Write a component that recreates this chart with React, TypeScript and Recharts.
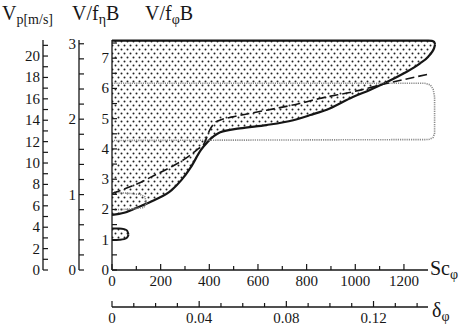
import { Area, ComposedChart, Line, XAxis, YAxis } from 'recharts';

// upper shaded region (lower boundary = solid curve, upper = top line)
const regionSc = [0, 50, 100, 175, 245, 285, 325, 365, 395, 420, 445, 525, 635, 745, 815, 895, 990, 1060, 1130, 1200, 1265, 1300, 1315, 1324, 1328];
const regionLow = [1.82, 1.89, 2.05, 2.31, 2.64, 2.97, 3.41, 3.96, 4.25, 4.43, 4.55, 4.68, 4.79, 4.95, 5.12, 5.34, 5.72, 5.95, 6.21, 6.5, 6.82, 7.05, 7.2, 7.33, 7.45];
const regionHigh = [7.58, 7.58, 7.58, 7.58, 7.58, 7.58, 7.58, 7.58, 7.58, 7.58, 7.58, 7.58, 7.58, 7.58, 7.58, 7.58, 7.58, 7.58, 7.58, 7.58, 7.58, 7.58, 7.57, 7.54, 7.45];

// small closed island near the axis
const blobSc = [0, 30, 50, 62, 68];
const blobLow = [0.99, 1.0, 1.02, 1.07, 1.17];
const blobHigh = [1.37, 1.37, 1.35, 1.3, 1.17];

// dashed curve
const dashSc = [0, 107, 175, 244, 312, 350, 380, 400, 420, 443, 496, 635, 771, 854, 991, 1128, 1220, 1305];
const dashV = [2.53, 2.86, 3.13, 3.41, 3.74, 3.98, 4.2, 4.6, 4.85, 4.95, 5.06, 5.28, 5.5, 5.67, 5.89, 6.16, 6.33, 6.48];

// grey dotted contours
const greySc = [0, 1285, 1308, 1320, 1326, 1326, 1320, 1302, 0];
const greyV = [6.17, 6.17, 6.12, 5.98, 5.72, 4.52, 4.38, 4.31, 4.28];
const greySmallSc = [8, 60, 115, 135, 142, 130, 70, 8];
const greySmallV = [2.57, 2.54, 2.5, 2.42, 2.2, 2.06, 2.01, 1.99];

// axes
const scTicks = [0, 100, 200, 300, 400, 500, 600, 700, 800, 900, 1000, 1100, 1200];
const scLabels = [0, 200, 400, 600, 800, 1000, 1200];
const deltaTicks = [0, 0.01, 0.02, 0.03, 0.04, 0.05, 0.06, 0.07, 0.08, 0.09, 0.1, 0.11, 0.12, 0.13, 0.14];
const deltaLabels = [0, 0.04, 0.08, 0.12];
const vpTicks = [0, 1, 2, 3, 4, 5, 6, 7, 8, 9, 10, 11, 12, 13, 14, 15, 16, 17, 18, 19, 20, 21];
const vpLabels = [0, 2, 4, 6, 8, 10, 12, 14, 16, 18, 20];
const etaTicks = [0, 0.2, 0.4, 0.6, 0.8, 1, 1.2, 1.4, 1.6, 1.8, 2, 2.2, 2.4, 2.6, 2.8, 3];
const etaLabels = [0, 1, 2, 3];
const phiTicks = [0, 0.5, 1, 1.5, 2, 2.5, 3, 3.5, 4, 4.5, 5, 5.5, 6, 6.5, 7, 7.5];
const phiLabels = [0, 1, 2, 3, 4, 5, 6, 7];

const regionData = regionSc.map((sc, i) => ({ sc, range: [regionLow[i], regionHigh[i]] }));
const blobData = blobSc.map((sc, i) => ({ sc, range: [blobLow[i], blobHigh[i]] }));
const dashData = dashSc.map((sc, i) => ({ sc, v: dashV[i] }));
const greyData = greySc.map((sc, i) => ({ sc, v: greyV[i] }));
const greySmallData = greySmallSc.map((sc, i) => ({ sc, v: greySmallV[i] }));
// empty series so the second x axis gets its scale
const deltaData = deltaTicks.map((d) => ({ d, v: null }));

const FONT = '"Liberation Serif", "DejaVu Serif", serif';
const INK = '#161616';

const isIn = (list: number[], v: number) => list.some((l) => Math.abs(l - v) < 1e-6);

function YTick(props: any) {
  const { x, y, payload, labels } = props;
  const v = payload.value;
  return (
    <g>
      <line x1={x} y1={y} x2={x + 5} y2={y} stroke={INK} strokeWidth={1.2} />
      {isIn(labels, v) && (
        <text x={x - 3} y={y + 5} textAnchor="end" fontFamily={FONT} fontSize={15} fill={INK}>
          {v}
        </text>
      )}
    </g>
  );
}

function XTick(props: any) {
  const { x, y, payload, labels, fmt } = props;
  const v = payload.value;
  const major = isIn(labels, v);
  return (
    <g>
      <line x1={x} y1={y} x2={x} y2={y - (major ? 6 : 4)} stroke={INK} strokeWidth={1.2} />
      {major && (
        <text x={x} y={y + 16} textAnchor="middle" fontFamily={FONT} fontSize={15} fill={INK}>
          {fmt ? fmt(v) : v}
        </text>
      )}
    </g>
  );
}

const sub = { fontSize: 14, position: 'relative' as const, top: 4 };
const head = { position: 'absolute' as const, top: 3, fontSize: 20, lineHeight: '20px', whiteSpace: 'nowrap' as const };

export default function App() {
  return (
    <div style={{ position: 'absolute', left: 0, top: 0, width: 462, height: 331, background: '#fff', fontFamily: FONT, color: INK }}>
      <ComposedChart width={462} height={331} margin={{ top: 40, right: 34, bottom: 0, left: 0 }}>
        <defs>
          <pattern id="dots" width={6} height={8} patternUnits="userSpaceOnUse">
            <circle cx={1.5} cy={1.5} r={1} fill="#222" />
            <circle cx={4.5} cy={5.5} r={1} fill="#222" />
          </pattern>
        </defs>
        <XAxis
          xAxisId="a_sc"
          dataKey="sc"
          type="number"
          domain={[0, 1340]}
          padding={{ left: 0, right: -10 }}
          ticks={scTicks}
          interval={0}
          height={37}
          tickSize={0}
          tickMargin={0}
          tickLine={false}
          stroke={INK}
          strokeWidth={1.3}
          tick={(p: any) => <XTick {...p} labels={scLabels} />}
        />
        <XAxis
          xAxisId="b_delta"
          dataKey="d"
          type="number"
          domain={[0, 0.145]}
          allowDataOverflow
          ticks={deltaTicks}
          interval={0}
          height={24}
          tickSize={0}
          tickMargin={0}
          tickLine={false}
          stroke={INK}
          strokeWidth={1.3}
          tick={(p: any) => <XTick {...p} labels={deltaLabels} fmt={(v: number) => (v === 0 ? '0' : v.toFixed(2))} />}
        />
        <YAxis
          yAxisId="a_phi"
          type="number"
          domain={[0, 7.6]}
          ticks={phiTicks}
          interval={0}
          width={33}
          tickSize={0}
          tickMargin={0}
          tickLine={false}
          stroke={INK}
          strokeWidth={1.3}
          tick={(p: any) => <YTick {...p} labels={phiLabels} />}
        />
        <YAxis
          yAxisId="b_eta"
          type="number"
          domain={[0, 3.05]}
          allowDataOverflow
          ticks={etaTicks}
          interval={0}
          width={36}
          tickSize={0}
          tickMargin={0}
          tickLine={false}
          stroke={INK}
          strokeWidth={1.3}
          tick={(p: any) => <YTick {...p} labels={etaLabels} />}
        />
        <YAxis
          yAxisId="c_vp"
          type="number"
          domain={[0, 21.5]}
          allowDataOverflow
          ticks={vpTicks}
          interval={0}
          width={43}
          tickSize={0}
          tickMargin={0}
          tickLine={false}
          stroke={INK}
          strokeWidth={1.3}
          tick={(p: any) => <YTick {...p} labels={vpLabels} />}
        />
        <Area
          xAxisId="a_sc"
          yAxisId="a_phi"
          data={regionData}
          dataKey="range"
          type="monotone"
          stroke={INK}
          strokeWidth={2.2}
          fill="url(#dots)"
          fillOpacity={1}
          isAnimationActive={false}
        />
        <Area
          xAxisId="a_sc"
          yAxisId="a_phi"
          data={blobData}
          dataKey="range"
          type="monotone"
          stroke={INK}
          strokeWidth={2}
          fill="url(#dots)"
          fillOpacity={1}
          isAnimationActive={false}
        />
        <Line
          xAxisId="a_sc"
          yAxisId="a_phi"
          data={greyData}
          dataKey="v"
          type="linear"
          stroke="#8c8c8c"
          strokeWidth={1.6}
          strokeDasharray="1.2 1"
          dot={false}
          isAnimationActive={false}
        />
        <Line
          xAxisId="a_sc"
          yAxisId="a_phi"
          data={greySmallData}
          dataKey="v"
          type="linear"
          stroke="#8c8c8c"
          strokeWidth={1.6}
          strokeDasharray="1.2 1"
          dot={false}
          isAnimationActive={false}
        />
        <Line
          xAxisId="a_sc"
          yAxisId="a_phi"
          data={dashData}
          dataKey="v"
          type="monotone"
          stroke={INK}
          strokeWidth={1.6}
          strokeDasharray="9 4"
          dot={false}
          isAnimationActive={false}
        />
        <Line
          xAxisId="b_delta"
          yAxisId="a_phi"
          data={deltaData}
          dataKey="v"
          stroke="none"
          dot={false}
          isAnimationActive={false}
        />
      </ComposedChart>
      <div style={{ ...head, left: 2 }}>
        V<span style={sub}>p[m/s]</span>
      </div>
      <div style={{ ...head, left: 72 }}>
        V/f<span style={sub}>η</span>B
      </div>
      <div style={{ ...head, left: 145 }}>
        V/f<span style={sub}>φ</span>B
      </div>
      <div style={{ ...head, left: 430, top: 258 }}>
        Sc<span style={sub}>φ</span>
      </div>
      <div style={{ ...head, left: 432, top: 300 }}>
        δ<span style={sub}>φ</span>
      </div>
    </div>
  );
}
